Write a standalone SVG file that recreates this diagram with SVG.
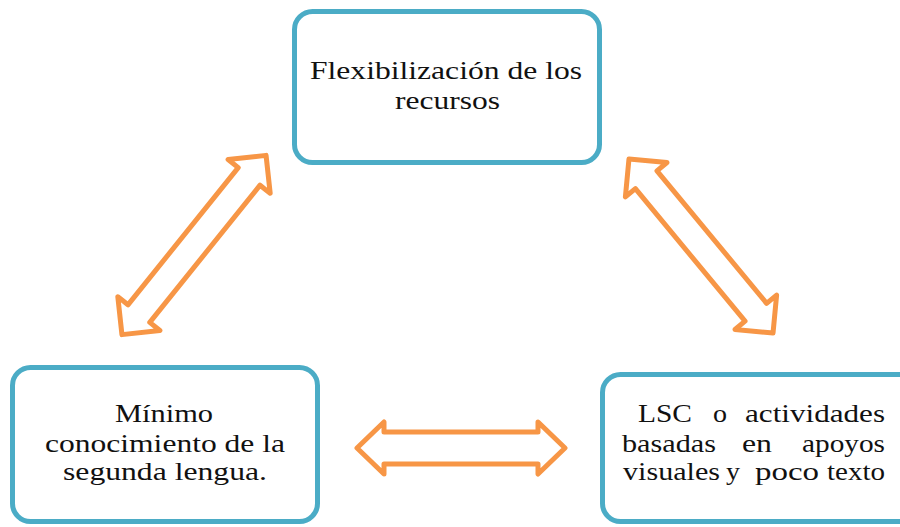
<svg xmlns="http://www.w3.org/2000/svg" width="900" height="527" viewBox="0 0 900 527">
<style>
.box{fill:#fff;stroke:#4BACC6;stroke-width:5}
.arr{fill:#fff;stroke:#F79646;stroke-width:5;stroke-linejoin:round}
.t{font-family:"Liberation Serif","Times New Roman",serif;font-size:26px;fill:#111}
</style>
<rect width="900" height="527" fill="#fff"/>
<g id="connectors">
<path class="arr" transform="translate(194,245) rotate(-51.2)" d="M-115 0 L-88 -27 L-88 -14 L88 -14 L88 -27 L115 0 L88 27 L88 14 L-88 14 L-88 27 Z"/>
<path class="arr" transform="translate(701,246) rotate(50.4)" d="M-113 0 L-86 -27 L-86 -14 L86 -14 L86 -27 L113 0 L86 27 L86 14 L-86 14 L-86 27 Z"/>
<path class="arr" transform="translate(461,448)" d="M-104 0 L-77 -26 L-77 -16 L77 -16 L77 -26 L104 0 L77 26 L77 16 L-77 16 L-77 26 Z"/>
</g>
<g id="node-top">
<rect class="box" x="294.5" y="11.5" width="305" height="151" rx="18"/>
<text class="t" x="310" y="79" textLength="272" lengthAdjust="spacingAndGlyphs">Flexibilización de los</text>
<text class="t" x="395" y="109" textLength="105" lengthAdjust="spacingAndGlyphs">recursos</text>
</g>
<g id="node-left">
<rect class="box" x="12.5" y="367.5" width="305" height="154" rx="18"/>
<text class="t" x="115" y="422" textLength="98" lengthAdjust="spacingAndGlyphs">Mínimo</text>
<text class="t" x="45" y="452" textLength="240" lengthAdjust="spacingAndGlyphs">conocimiento de la</text>
<text class="t" x="63" y="480" textLength="204" lengthAdjust="spacingAndGlyphs">segunda lengua.</text>
</g>
<g id="node-right">
<rect class="box" x="602.5" y="374.5" width="320" height="147" rx="18"/>
<text class="t" x="638" y="422" textLength="54" lengthAdjust="spacingAndGlyphs">LSC</text>
<text class="t" x="713" y="422" textLength="14" lengthAdjust="spacingAndGlyphs">o</text>
<text class="t" x="745" y="422" textLength="140" lengthAdjust="spacingAndGlyphs">actividades</text>
<text class="t" x="622" y="452" textLength="94" lengthAdjust="spacingAndGlyphs">basadas</text>
<text class="t" x="742" y="452" textLength="30" lengthAdjust="spacingAndGlyphs">en</text>
<text class="t" x="802" y="452" textLength="83" lengthAdjust="spacingAndGlyphs">apoyos</text>
<text class="t" x="623" y="480" textLength="97" lengthAdjust="spacingAndGlyphs">visuales</text>
<text class="t" x="726" y="480" textLength="14" lengthAdjust="spacingAndGlyphs">y</text>
<text class="t" x="755" y="480" textLength="64" lengthAdjust="spacingAndGlyphs">poco</text>
<text class="t" x="827" y="480" textLength="58" lengthAdjust="spacingAndGlyphs">texto</text>
</g>
</svg>
